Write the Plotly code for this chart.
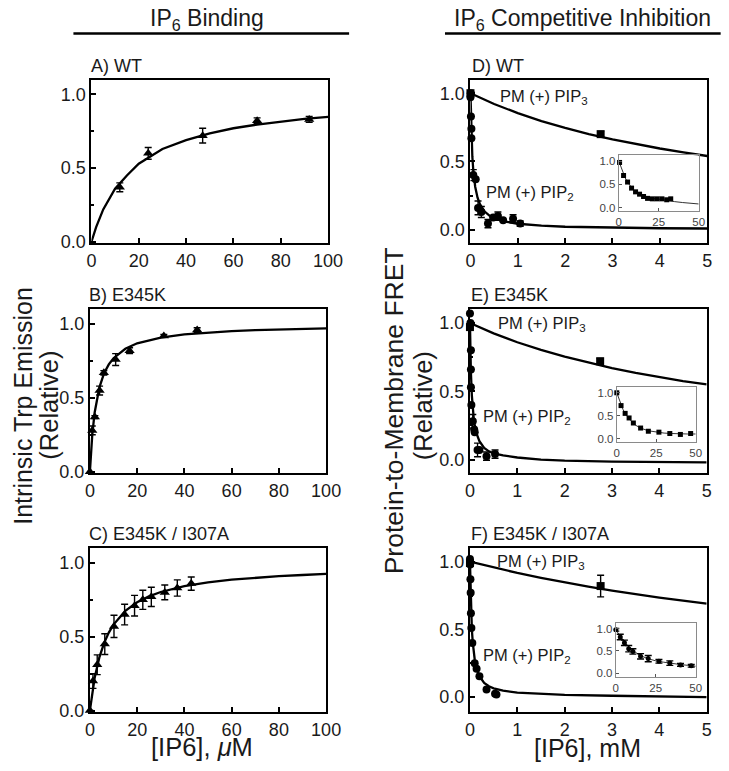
import plotly.graph_objects as go

# The photographed picture comes out as R = S * P + B of the page pixel P
# (measured with a frame in an earlier run), so every reference pixel is mapped back.
SX, BX = 0.974, 4.5
SY, BY = 0.988, 0.4
FW, FH = 737, 780
FONT = "Liberation Sans, Arial, Helvetica, sans-serif"
INK = "#1a1a1a"

# ---- Left column: intrinsic Trp emission vs [IP6] (uM) ----
A_X = [12, 24, 47, 70, 92]
A_Y = [0.37, 0.60, 0.72, 0.82, 0.83]
A_ERR = [0.03, 0.04, 0.05, 0.02, 0.02]
A_FIT_X = [0, 1, 2, 5, 10, 15, 20, 30, 40, 50, 60, 70, 80, 90, 100]
A_FIT_Y = [0, 0.05, 0.10, 0.22, 0.36, 0.45, 0.53, 0.63, 0.69, 0.735, 0.77, 0.795, 0.816, 0.833, 0.847]

B_X = [0, 1.0, 2.1, 4.1, 5.9, 10.9, 16.8, 31.3, 45.4]
B_Y = [0.0, 0.28, 0.37, 0.55, 0.67, 0.76, 0.82, 0.92, 0.96]
B_ERR = [0, 0.03, 0.01, 0.03, 0.015, 0.04, 0.02, 0.01, 0.015]
B_FIT_X = [0, 0.5, 1, 2, 3, 4, 6, 8, 10, 15, 20, 30, 40, 50, 60, 70, 80, 90, 100]
B_FIT_Y = [0, 0.14, 0.25, 0.40, 0.50, 0.57, 0.667, 0.727, 0.769, 0.833, 0.87, 0.909, 0.93,
           0.943, 0.952, 0.959, 0.964, 0.968, 0.971]

C_X = [0, 1.3, 3.1, 6.3, 10.2, 14.7, 18.9, 22.4, 26.0, 31.7, 37.0, 42.9]
C_Y = [0, 0.20, 0.31, 0.45, 0.57, 0.65, 0.71, 0.75, 0.77, 0.80, 0.83, 0.86]
C_ERR = [0, 0.05, 0.067, 0.07, 0.075, 0.07, 0.07, 0.065, 0.065, 0.05, 0.055, 0.045]
C_FIT_X = [0, 1, 2, 4, 6, 8, 10, 15, 20, 25, 30, 40, 50, 60, 70, 80, 90, 100]
C_FIT_Y = [0, 0.124, 0.22, 0.36, 0.457, 0.528, 0.582, 0.675, 0.733, 0.773, 0.803, 0.843,
           0.868, 0.887, 0.90, 0.91, 0.918, 0.925]

# ---- Right column: protein-to-membrane FRET vs [IP6] (mM) ----
PIP3_FIT_X = [0, 0.5, 1, 1.5, 2, 2.5, 3, 3.5, 4, 4.5, 5]
PIP2_FIT_X = [0, 0.01, 0.02, 0.04, 0.06, 0.08, 0.1, 0.15, 0.2, 0.3, 0.4, 0.5, 0.7, 1, 1.5, 2, 3, 4, 5]

D_PIP3_X = [0, 2.75]
D_PIP3_Y = [1.0, 0.70]
D_PIP3_ERR = [0.01, 0.02]
D_PIP3_FIT = [1.0, 0.921, 0.854, 0.796, 0.746, 0.701, 0.662, 0.626, 0.595, 0.566, 0.54]
D_PIP2_X = [0, 0.005, 0.01, 0.02, 0.02, 0.06, 0.11, 0.16, 0.23, 0.37, 0.48, 0.58, 0.69, 0.90, 1.05]
D_PIP2_Y = [0.97, 1.0, 0.83, 0.74, 0.67, 0.40, 0.37, 0.16, 0.13, 0.045, 0.09, 0.10, 0.07, 0.08, 0.045]
D_PIP2_ERR = [0, 0, 0, 0, 0, 0.04, 0, 0.05, 0.04, 0.03, 0, 0.03, 0, 0.03, 0.02]
D_PIP2_FIT = [1.0, 0.82, 0.70, 0.535, 0.434, 0.365, 0.315, 0.235, 0.187, 0.133, 0.103, 0.084,
              0.062, 0.044, 0.03, 0.022, 0.015, 0.011, 0.009]

E_PIP3_X = [0, 2.75]
E_PIP3_Y = [0.97, 0.72]
E_PIP3_ERR = [0.01, 0.02]
E_PIP3_FIT = [1.0, 0.924, 0.859, 0.803, 0.753, 0.709, 0.67, 0.635, 0.604, 0.575, 0.55]
E_PIP2_X = [0, 0.01, 0.02, 0.02, 0.02, 0.03, 0.06, 0.09, 0.1, 0.16, 0.2, 0.35, 0.53]
E_PIP2_Y = [1.07, 1.0, 0.80, 0.66, 0.53, 0.40, 0.28, 0.22, 0.20, 0.07, 0.07, 0.025, 0.04]
E_PIP2_ERR = [0, 0, 0, 0, 0, 0, 0.05, 0, 0, 0.05, 0, 0.03, 0.03]
E_PIP2_FIT = [1.0, 0.78, 0.64, 0.47, 0.37, 0.30, 0.255, 0.18, 0.135, 0.085, 0.06, 0.045,
              0.03, 0.015, 0.0, -0.008, -0.015, -0.018, -0.02]

F_PIP3_X = [0, 2.76]
F_PIP3_Y = [0.99, 0.82]
F_PIP3_ERR = [0.01, 0.08]
F_PIP3_FIT = [1.0, 0.957, 0.917, 0.881, 0.847, 0.816, 0.787, 0.76, 0.735, 0.712, 0.69]
F_PIP2_X = [0, 0.005, 0.01, 0.015, 0.02, 0.03, 0.05, 0.1, 0.14, 0.2, 0.35, 0.53, 0.56]
F_PIP2_Y = [1.02, 0.98, 0.87, 0.77, 0.62, 0.51, 0.40, 0.25, 0.21, 0.155, 0.057, 0.025, 0.02]
F_PIP2_FIT = [1.0, 0.80, 0.67, 0.50, 0.40, 0.33, 0.28, 0.20, 0.155, 0.105, 0.08, 0.065,
              0.048, 0.033, 0.022, 0.016, 0.01, 0.005, 0.0]

# ---- Insets (x 0-50) ----
DI_X = [0.5, 3, 5.5, 8, 10.5, 13, 15.5, 18, 21, 24, 27, 30, 32.5]
DI_Y = [0.97, 0.69, 0.55, 0.42, 0.34, 0.29, 0.24, 0.20, 0.19, 0.19, 0.19, 0.17, 0.19]
DI_FIT_X = [0, 2, 4, 6, 8, 10, 12, 15, 20, 25, 30, 35, 40, 45, 50]
DI_FIT_Y = [1.0, 0.80, 0.64, 0.52, 0.43, 0.36, 0.31, 0.26, 0.21, 0.18, 0.16, 0.13, 0.11, 0.10, 0.08]

EI_X = [0, 2.7, 5.3, 7.8, 10.5, 15.1, 20.0, 26.7, 33.6, 40.3, 46.8]
EI_Y = [1.0, 0.72, 0.55, 0.45, 0.34, 0.23, 0.16, 0.14, 0.11, 0.09, 0.11]
EI_FIT_X = [0, 2, 4, 6, 8, 10, 12, 15, 20, 25, 30, 35, 40, 45, 50]
EI_FIT_Y = [1.0, 0.79, 0.63, 0.51, 0.42, 0.35, 0.29, 0.23, 0.17, 0.14, 0.12, 0.11, 0.10, 0.10, 0.10]

FI_X = [0, 2.8, 5.4, 8.1, 10.7, 15.5, 20.3, 27, 33.8, 40.5, 47.2]
FI_Y = [0.97, 0.81, 0.68, 0.55, 0.49, 0.38, 0.33, 0.27, 0.23, 0.19, 0.17]
FI_ERR = [0.03, 0.06, 0.06, 0.07, 0.06, 0.06, 0.07, 0.04, 0.05, 0.03, 0.03]
FI_FIT_X = [0, 3, 6, 9, 12, 15, 20, 25, 30, 35, 40, 45, 50]
FI_FIT_Y = [0.97, 0.82, 0.67, 0.56, 0.47, 0.40, 0.33, 0.28, 0.25, 0.22, 0.20, 0.18, 0.16]


def px(r):
    return (r - BX) / SX / FW


def py(r):
    return 1 - (r - BY) / SY / FH


def xdom(a, b):
    return [px(a), px(b)]


def ydom(top, bottom):
    return [py(bottom), py(top)]


fig = go.Figure()


def pts(n, x, y, err, symbol, size):
    fig.add_trace(go.Scatter(
        x=x, y=y, mode="markers", xaxis=f"x{n}", yaxis=f"y{n}",
        marker=dict(symbol=symbol, size=size, color="black"),
        error_y=dict(type="data", array=err, visible=err is not None, color="black",
                     thickness=1.4, width=3.5),
        cliponaxis=False, showlegend=False))


def curve(n, x, y, width=2.3, color="black"):
    fig.add_trace(go.Scatter(
        x=x, y=y, mode="lines", xaxis=f"x{n}", yaxis=f"y{n}",
        line=dict(color=color, width=width), showlegend=False))


# main panels: 1=A 2=B 3=C 4=D 5=E 6=F ; insets 7=D 8=E 9=F
curve(1, A_FIT_X, A_FIT_Y); pts(1, A_X, A_Y, A_ERR, "triangle-up", 9)
curve(2, B_FIT_X, B_FIT_Y); pts(2, B_X, B_Y, B_ERR, "triangle-up", 9)
curve(3, C_FIT_X, C_FIT_Y); pts(3, C_X, C_Y, C_ERR, "triangle-up", 9)

curve(4, PIP3_FIT_X, D_PIP3_FIT); curve(4, PIP2_FIT_X, D_PIP2_FIT)
pts(4, D_PIP2_X, D_PIP2_Y, D_PIP2_ERR, "circle", 8)
pts(4, D_PIP3_X, D_PIP3_Y, D_PIP3_ERR, "square", 8)
curve(5, PIP3_FIT_X, E_PIP3_FIT); curve(5, PIP2_FIT_X, E_PIP2_FIT)
pts(5, E_PIP2_X, E_PIP2_Y, E_PIP2_ERR, "circle", 8)
pts(5, E_PIP3_X, E_PIP3_Y, E_PIP3_ERR, "square", 8)
curve(6, PIP3_FIT_X, F_PIP3_FIT); curve(6, PIP2_FIT_X, F_PIP2_FIT)
pts(6, F_PIP2_X, F_PIP2_Y, None, "circle", 8)
pts(6, F_PIP3_X, F_PIP3_Y, F_PIP3_ERR, "square", 8)

curve(7, DI_FIT_X, DI_FIT_Y, 1, "#333"); pts(7, DI_X, DI_Y, None, "square", 5)
curve(8, EI_FIT_X, EI_FIT_Y, 1, "#333"); pts(8, EI_X, EI_Y, None, "square", 5)
curve(9, FI_FIT_X, FI_FIT_Y, 1, "#333"); pts(9, FI_X, FI_Y, FI_ERR, "circle", 5)

tick_font = dict(family=FONT, size=18, color=INK)
main_common = dict(showline=True, mirror=True, linecolor="black", linewidth=2,
                   ticks="inside", ticklen=5, tickwidth=1.5, tickcolor="black",
                   showgrid=False, zeroline=False, tickfont=tick_font)
inset_common = dict(showline=True, mirror=True, linecolor="#8a8a8a", linewidth=1,
                    ticks="inside", ticklen=3, tickwidth=1, tickcolor="#555",
                    showgrid=False, zeroline=False,
                    tickfont=dict(family=FONT, size=11.5, color="#444"))

panels = {
    1: (xdom(91, 328), ydom(79, 243), [0, 100], [-0.01, 1.1], 20),
    2: (xdom(89.5, 326), ydom(309, 473), [0, 100], [-0.01, 1.1], 20),
    3: (xdom(89.5, 326), ydom(548, 712), [0, 100], [-0.01, 1.1], 20),
    4: (xdom(470.5, 707.5), ydom(79, 243), [0, 5], [-0.1, 1.1], 1),
    5: (xdom(470, 707), ydom(309, 473), [0, 5], [-0.1, 1.1], 1),
    6: (xdom(470, 707), ydom(548, 712), [0, 5], [-0.11, 1.1], 1),
}
insets = {
    7: (xdom(619, 699), ydom(155, 211)),
    8: (xdom(617, 696), ydom(387, 442)),
    9: (xdom(616, 696), ydom(623, 677)),
}

layout_axes = {}
for n, (xd, yd, xr, yr, dt) in panels.items():
    layout_axes[f"xaxis{n}"] = dict(domain=xd, range=xr, anchor=f"y{n}", dtick=dt, tick0=0,
                                    **main_common)
    layout_axes[f"yaxis{n}"] = dict(domain=yd, range=yr, anchor=f"x{n}",
                                    tickvals=[0, 0.5, 1.0], ticktext=["0.0", "0.5", "1.0"],
                                    minor=dict(ticks="inside", ticklen=3, tickvals=[0.25, 0.75],
                                               tickcolor="black"),
                                    **main_common)
for n, (xd, yd) in insets.items():
    layout_axes[f"xaxis{n}"] = dict(domain=xd, range=[0, 50], anchor=f"y{n}",
                                    tickvals=[0, 25, 50], **inset_common)
    layout_axes[f"yaxis{n}"] = dict(domain=yd, range=[-0.08, 1.12], anchor=f"x{n}",
                                    tickvals=[0, 0.5, 1.0], ticktext=["0.0", "0.5", "1.0"],
                                    **inset_common)
layout_axes["xaxis"] = layout_axes.pop("xaxis1")
layout_axes["yaxis"] = layout_axes.pop("yaxis1")

ann = []


def note(text, x, y, size, xanchor="center", angle=0, ref="paper", xref=None, yref=None):
    d = dict(text=text, showarrow=False, xanchor=xanchor, yanchor="middle", textangle=angle,
             font=dict(family=FONT, size=size, color=INK))
    if ref == "paper":
        d.update(xref="paper", yref="paper", x=px(x), y=py(y))
    else:
        d.update(xref=xref, yref=yref, x=x, y=y)
    ann.append(d)


note("IP<sub>6</sub> Binding", 207, 19, 23)
note("IP<sub>6</sub> Competitive Inhibition", 583, 19, 23)

note("A) WT", 89, 65, 18, "left")
note("B) E345K", 87, 295, 18, "left")
note("C) E345K / I307A", 87, 534, 18, "left")
note("D) WT", 470, 65, 18, "left")
note("E) E345K", 469, 295, 18, "left")
note("F) E345K / I307A", 469, 534, 18, "left")

note("Intrinsic Trp Emission", 23, 405, 25, angle=-90)
note("(Relative)", 49, 405, 25.5, angle=-90)
note("Protein-to-Membrane FRET", 394, 411, 26.5, angle=-90)
note("(Relative)", 423, 406, 25.5, angle=-90)
note("[IP6], <i>μ</i>M", 202, 747, 25.5)
note("[IP6], mM", 588, 748, 25)

for n, (x3, y3, x2, y2) in {4: (0.58, 0.97, 0.28, 0.27), 5: (0.55, 0.99, 0.23, 0.31),
                            6: (0.53, 1.0, 0.23, 0.30)}.items():
    note("PM (+) PIP<sub>3</sub>", x3, y3, 16.5, "left", ref="data", xref=f"x{n}", yref=f"y{n}")
    note("PM (+) PIP<sub>2</sub>", x2, y2, 16.5, "left", ref="data", xref=f"x{n}", yref=f"y{n}")

shapes = [
    dict(type="line", xref="paper", yref="paper", x0=px(73), x1=px(349),
         y0=py(33), y1=py(33), line=dict(color="black", width=2.5)),
    dict(type="line", xref="paper", yref="paper", x0=px(445), x1=px(721),
         y0=py(33), y1=py(33), line=dict(color="black", width=2.5)),
]

fig.update_layout(
    width=FW, height=FH,
    margin=dict(l=0, r=0, t=0, b=0),
    paper_bgcolor="white", plot_bgcolor="white",
    font=dict(family=FONT, color=INK),
    annotations=ann, shapes=shapes,
    showlegend=False,
    **layout_axes,
)

fig.write_html(
    "out.html",
    config={"displayModeBar": False},
    post_script=("document.documentElement.style.margin='0';"
                 "document.documentElement.style.overflow='hidden';"
                 "document.body.style.margin='0';"
                 "document.body.style.overflow='hidden';"),
)
